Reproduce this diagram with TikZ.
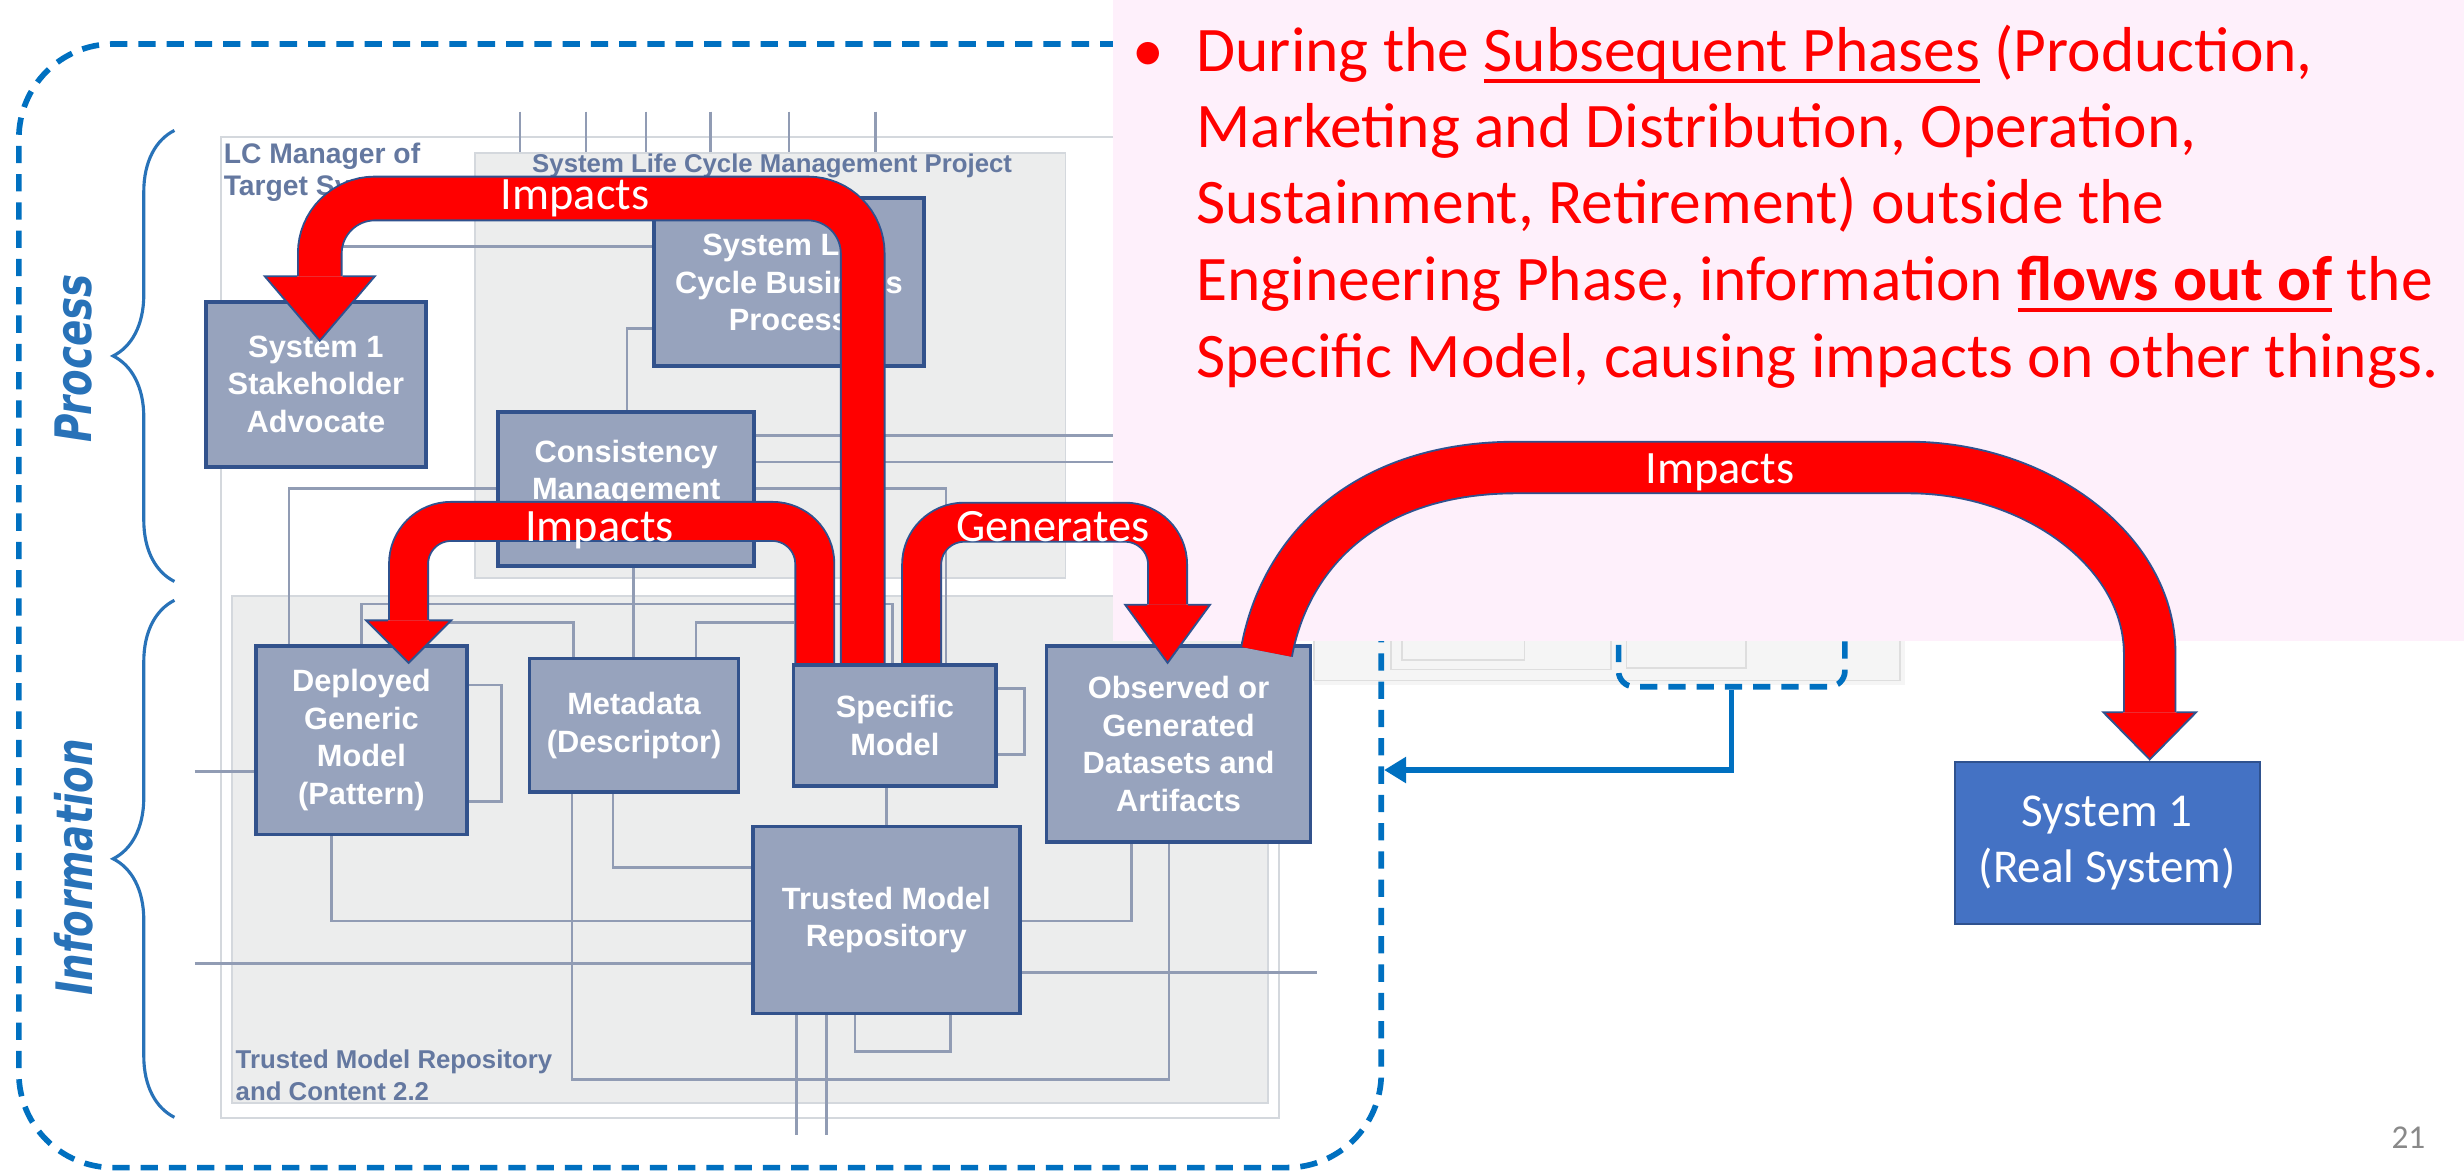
\documentclass[tikz,border=0pt]{standalone}
\usepackage{fontspec}
\usepackage{graphicx}
\setmainfont{Carlito}
\newfontfamily\diafont{Liberation Sans}
\newfontfamily\sidefont{DejaVu Sans}
\usetikzlibrary{arrows.meta, calc, backgrounds, decorations.pathreplacing}

\definecolor{slideblue}{RGB}{0,112,192}
\definecolor{sideblue}{RGB}{40,114,184}
\definecolor{boxfill}{RGB}{151,163,189}
\definecolor{boxline}{RGB}{50,82,140}
\definecolor{wiregray}{RGB}{145,156,180}
\definecolor{framefill}{RGB}{236,237,237}
\definecolor{frameline}{RGB}{212,216,221}
\definecolor{labelgray}{RGB}{100,120,160}
\definecolor{notepink}{RGB}{254,240,251}
\definecolor{flowred}{RGB}{255,0,0}
\definecolor{flowline}{RGB}{47,82,143}
\definecolor{realblue}{RGB}{68,114,196}
\definecolor{pagegray}{RGB}{137,137,137}

% underline at a fixed depth, as on the slide
\newcommand{\ulined}[1]{\setbox0\hbox{#1}\rlap{\rule[-3.5pt]{\wd0}{1.2pt}}\box0\relax}
% head of a red block arrow: tip, half width, length, half shaft
\newcommand{\flowhead}[4]{%
  \fill[flowred] (#1) -- ++(-#2,-#3) -- ++(2*#2,0) -- cycle;
  \draw[flowline, line width=0.6pt] ($(#1)+(-#4,-#3)$) -- ++({#4-#2},0) -- (#1) -- ++(#2,-#3) -- ++({#4-#2},0);
}

\tikzset{
  mbox/.style={draw=boxline, line width=1.2pt, fill=boxfill, text=white, align=center,
               font=\diafont\bfseries\fontsize{9.8}{12}\selectfont, inner sep=0pt},
  framebox/.style={draw=frameline, line width=0.6pt},
  framelabel/.style={text=labelgray, font=\diafont\bfseries\fontsize{8.2}{10}\selectfont,
                     inner sep=0pt, anchor=base west},
  wire/.style={draw=wiregray, line width=0.8pt},
  faint/.style={draw=black!13, line width=0.5pt},
  envelope/.style={draw=slideblue, line width=1.8pt, dash pattern=on 5.5pt off 3.5pt,
                   rounded corners=30pt, inner sep=0pt},
  extbox/.style={draw=slideblue, line width=1.8pt, dash pattern=on 5.5pt off 3.5pt,
                 rounded corners=5pt, inner sep=0pt},
  feed/.style={draw=slideblue, line width=1.7pt, -{Triangle[length=7pt, width=8pt]}},
  sidebrace/.style={draw=sideblue, line width=1pt, decorate, decoration={brace, amplitude=19.5pt}},
  sidelabel/.style={text=sideblue, font=\sidefont\bfseries\itshape\fontsize{16}{18}\selectfont,
                    rotate=90, inner sep=0pt},
  notetext/.style={text=red, font=\fontsize{20.2}{24}\selectfont, inner sep=0pt, anchor=base west},
  flow/.style={draw=flowline, line width=0.6pt, double=flowred},
  flowlabel/.style={text=white, font=\fontsize{14.75}{16}\selectfont, inner sep=0pt, anchor=base},
  sysbox/.style={draw=flowline, line width=0.75pt, fill=realblue, text=white, align=center,
                 font=\fontsize{15}{18}\selectfont, inner sep=0pt},
}

\begin{document}
\begin{tikzpicture}[x=0.5pt, y=-0.5pt]
\useasboundingbox (0,0) rectangle (1568,746);

% blocks of the faded screenshot
\node[mbox, minimum width=70pt, minimum height=52.5pt] (adv) at (201,244.5) {System 1\\Stakeholder\\Advocate};
\node[mbox, minimum width=86pt, minimum height=53.5pt] (bproc) at (502,179.5) {System Life\\Cycle Business\\Process};
\node[mbox, minimum width=81.5pt, minimum height=49pt] (cons) at (398.5,311) {Consistency\\Management\\\mbox{}};
\node[mbox, minimum width=67pt, minimum height=60pt] (dep) at (230,471) {Deployed\\Generic\\Model\\(Pattern)};
\node[mbox, minimum width=66.5pt, minimum height=42.5pt] (meta) at (403.5,461.5) {Metadata\\(Descriptor)};
\node[mbox, minimum width=64.5pt, minimum height=38.5pt] (spec) at (569.5,461.5) {Specific\\Model};
\node[mbox, minimum width=84pt, minimum height=62.5pt] (obs) at (750,473.5) {Observed or\\Generated\\Datasets and\\Artifacts};
\node[mbox, minimum width=85pt, minimum height=59.5pt] (repo) at (564,585.5) {Trusted Model\\Repository};

\begin{scope}[on background layer]
  \fill[white] (0,0) rectangle (1568,746);
  \draw[framebox, fill=white] (140.4,87.4) rectangle (813.7,711.7);
  \foreach \sx in {331,373,411,452,502}
    \draw[wire] (\sx,71) -- (\sx,97.6);
  \draw[wire] (557,71) -- (bproc.north -| 557,0);
  \draw[framebox, fill=framefill] (302.3,97.6) rectangle (678,368);
  \draw[framebox, fill=framefill] (147.4,379) rectangle (807,701.7);
  \node[framelabel, font=\diafont\bfseries\fontsize{9}{10}\selectfont] (lcA) at (142,103.8) {LC Manager of};
  \node[framelabel, font=\diafont\bfseries\fontsize{9}{10}\selectfont] (lcB) at (142,124.7) {Target System};
  \node[framelabel] (prj) at (338.3,110) {System Life Cycle Management Project};
  \node[framelabel] (tmrA) at (149.6,679.8) {Trusted Model Repository};
  \node[framelabel] (tmrB) at (149.6,700) {and Content 2.2};
  % connectors
  \draw[wire] (205,157) -- (bproc.west |- 0,157);
  \draw[wire] (bproc.west |- 0,209) -| (cons.north -| 399,0);
  \draw[wire] (cons.east |- 0,277) -- (720,277);
  \draw[wire] (cons.east |- 0,294) -- (720,294);
  \draw[wire] (dep.north -| 184,0) |- (602,311) -- (spec.north -| 602,0);
  \draw[wire] (dep.north -| 230,0) |- (568,384.5) -- (spec.north -| 568,0);
  \draw[wire] (260,396) -| (meta.north -| 365,0);
  \draw[wire] (505,396) -| (meta.north -| 443,0);
  \draw[wire] (cons.south -| 403,0) -- (meta.north -| 403,0);
  \draw[wire] (dep.east |- 0,436) -| (319,510) -- (dep.east |- 0,510);
  \draw[wire] (spec.east |- 0,438) -| (652,480) -- (spec.east |- 0,480);
  \draw[wire] (124,491) -- (dep.west |- 0,491);
  \draw[wire] (124,613) -- (repo.west |- 0,613);
  \draw[wire] (repo.east |- 0,619) -- (838,619);
  \draw[wire] (dep.south -| 211,0) |- (repo.west |- 0,586);
  \draw[wire] (repo.east |- 0,586) -| (obs.south -| 720,0);
  \draw[wire] (meta.south -| 390,0) |- (repo.west |- 0,552);
  \draw[wire] (meta.south -| 364,0) |- (744,687) -- (obs.south -| 744,0);
  \draw[wire] (spec.south -| 564,0) -- (repo.north -| 564,0);
  \draw[wire] (repo.south -| 507,0) -- (507,722);
  \draw[wire] (repo.south -| 526,0) -- (526,722);
  \draw[wire] (repo.south -| 544,0) |- (605,669) -- (repo.south -| 605,0);
\end{scope}

% faded part on the right
\fill[black!4] (836,400) rectangle (1212,436);
\draw[faint] (836,380) rectangle (1209,433);
\draw[faint] (885,380) rectangle (1025,426);
\draw[faint] (892,380) rectangle (970,420);
\draw[faint] (1035,380) rectangle (1111,425);

\node[envelope, minimum width=433.5pt, minimum height=357.5pt] (frame) at (445.5,385.5) {};
\node[extbox, minimum width=72pt, minimum height=38.5pt] (ext) at (1102,398.5) {};
\coordinate (frin) at ($(frame.east)+(0,104.5)$);
\draw[feed] (ext.south) |- (frin);

% braces and side titles
\draw[sidebrace] (111,370) -- (111,83);
\draw[sidebrace] (111,711) -- (111,382);
\node[sidelabel] (proc) at (47,228) {\scalebox{0.77}[1]{Process}};
\node[sidelabel] (info) at (47,552) {\scalebox{0.77}[1]{Information}};

% note
\fill[notepink] (708,0) rectangle (1568,408);
\node[notetext] (bul) at (720,45.5) {•};
\node[notetext] (l1) at (761,45.5) {During the \ulined{Subsequent Phases} (Production,};
\node[notetext] (l2) at (761,94) {Marketing and Distribution, Operation,};
\node[notetext] (l3) at (761,142.5) {Sustainment, Retirement) outside the};
\node[notetext] (l4) at (761,191.5) {Engineering Phase, information \ulined{\textbf{flows out of}} the};
\node[notetext] (l5) at (761,240) {Specific Model, causing impacts on other things.};

\node[sysbox, minimum width=97pt, minimum height=51.5pt] (sys) at (1341,536.5) {System 1\\(Real System)};

% red flows out of the specific model
\coordinate (tipA) at ($(adv.north)+(2.5,26)$);
\draw[flow, double distance=13.3pt, rounded corners=17.5pt]
  ($(spec.north)+(-20.5,0)$) -- ++(0,-295.5) -| ($(tipA)+(0,-41)$);
\flowhead{tipA}{35}{41}{14.5}

\coordinate (tipB) at ($(dep.north)+(30,12)$);
\draw[flow, double distance=11.8pt, rounded corners=13.5pt]
  ($(spec.north)+(-51,0)$) -- ++(0,-90) -| ($(tipB)+(0,-27)$);
\flowhead{tipB}{27}{27}{13}

\coordinate (tipC) at ($(obs.north)+(-7,12)$);
\draw[flow, double distance=11.8pt, rounded corners=13.5pt]
  ($(spec.north)+(17,0)$) -- ++(0,-89.5) -| ($(tipC)+(0,-37)$);
\flowhead{tipC}{27}{37}{13}

\coordinate (tipD) at ($(sys.north)+(27,-1)$);
\draw[flow, double distance=15.8pt]
  ($(obs.north)+(56,5)$) .. controls (818,350) and (870,297.5) .. (965,297.5)
  -- (1215,297.5) .. controls (1295,297.5) and (1368,350) .. (1368,416) -- ($(tipD)+(0,-30)$);
\flowhead{tipD}{29.5}{30}{17}

\node[flowlabel] (impA) at (366,133) {Impacts};
\node[flowlabel] (impB) at (381.5,344.6) {Impacts};
\node[flowlabel] (gen) at (670,344.6) {Generates};
\node[flowlabel] (impD) at (1094.5,307.4) {Impacts};

\node[text=pagegray, font=\fontsize{10.6}{12}\selectfont, inner sep=0pt, anchor=base west] (pgnum) at (1521.5,731) {21};
\end{tikzpicture}
\end{document}
